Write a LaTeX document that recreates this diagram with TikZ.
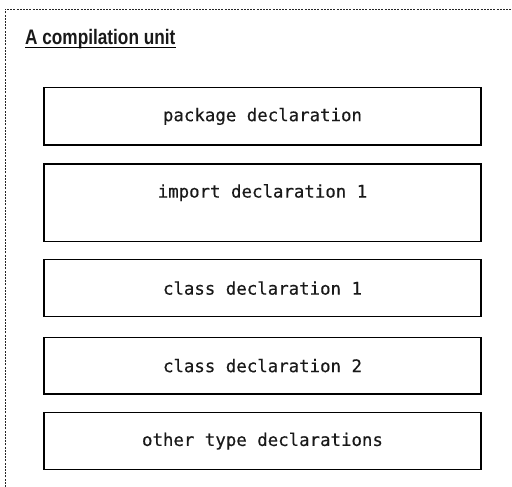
\documentclass[tikz,border=0pt]{standalone}
\usepackage{fontspec}
\setmainfont{Liberation Sans}
\newfontfamily\titlefont[FakeStretch=0.82]{Liberation Sans Bold}
\newfontfamily\codefont[FakeBold=0.4]{DejaVu Sans Mono}
\begin{document}
\begin{tikzpicture}[x=1pt,y=-1pt,
  declbox/.style={draw=black, line width=1.2pt, minimum width=437pt, inner sep=0pt, anchor=north},
  decltext/.style={font=\codefont\fontsize{17.4}{20}\selectfont, text=black!90, inner sep=0pt},
  titletext/.style={font=\titlefont\fontsize{21}{25}\selectfont, text=black!90, inner sep=0pt, anchor=base west},
  frame/.style={draw=black!85, line width=0.9pt, dash pattern=on 2pt off 1.2pt}
]
\useasboundingbox (0,0) rectangle (512,487);
\coordinate (fbl) at (5,487);
\coordinate (ftl) at (5,9);
\coordinate (ftr) at (512,9);
\draw[frame] (fbl) -- (ftl) -- (ftr);

\node[titletext] (title) at (25,44.3) {A compilation unit};
\draw[line width=1.1pt] (title.base west) ++(0,3) coordinate (ul1) -- (ul1 -| title.base east);

\node[declbox, minimum height=57pt] (pkg) at (262.5,87.3) {};
\node[decltext] (pkgt) at (pkg.center) {package declaration};

\node[declbox, minimum height=77.4pt] (imp) at (262.5,163.3) {};
\node[decltext] (impt) at (262.5,192.7) {import declaration 1};

\node[declbox, minimum height=57pt] (cls1) at (262.5,259) {};
\node[decltext] (cls1t) at (cls1.center) {class declaration 1};

\node[declbox, minimum height=56.6pt] (cls2) at (262.5,336.7) {};
\node[decltext] (cls2t) at (cls2.center) {class declaration 2};

\node[declbox, minimum height=57pt] (oth) at (262.5,412) {};
\node[decltext] (otht) at (oth.center) {other type declarations};
\end{tikzpicture}
\end{document}
